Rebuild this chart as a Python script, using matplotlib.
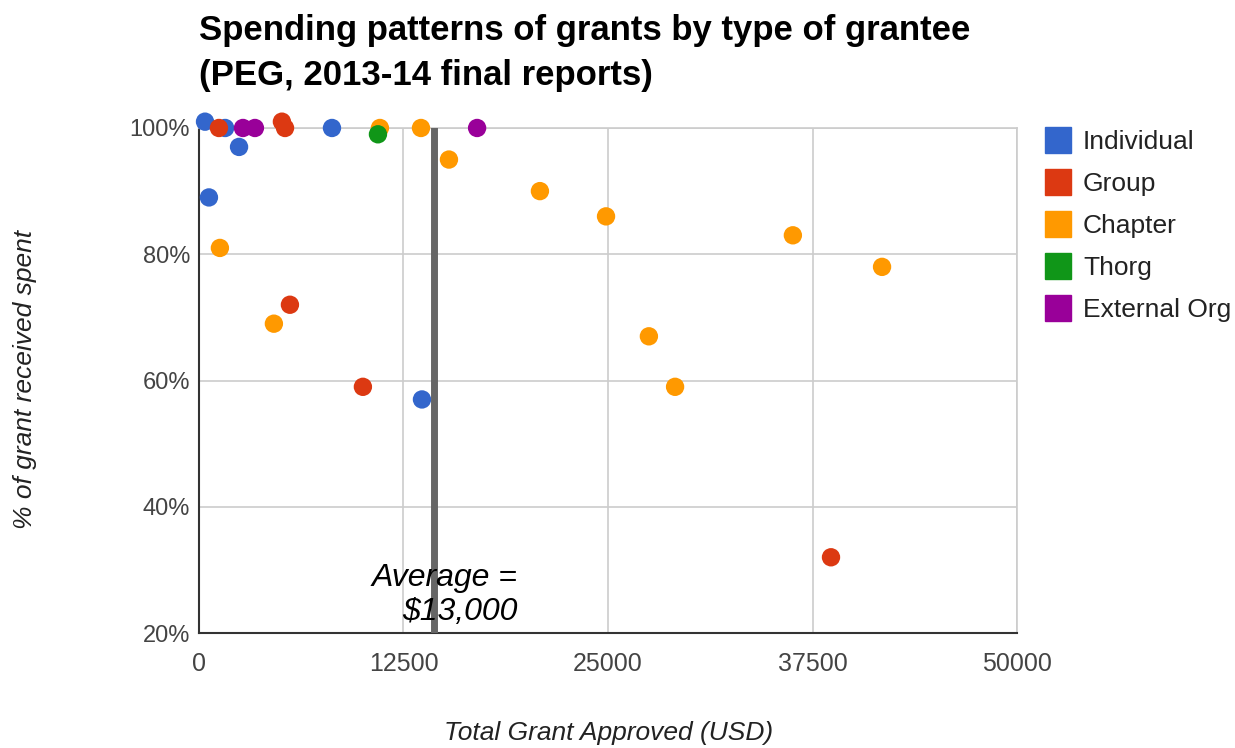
import numpy as np
import matplotlib.pyplot as plt
from matplotlib.lines import Line2D

plt.rcParams['font.family'] = ['Liberation Sans', 'DejaVu Sans']

# grant approved (USD) and % of grant spent, by grantee type
individual_x = [370, 1600, 2450, 610, 8130, 13630]
individual_y = [101, 100, 97, 89, 100, 57]

group_x = [1220, 5070, 5260, 5560, 10020, 38630]
group_y = [100, 101, 100, 72, 59, 32]

chapter_x = [11060, 13570, 15280, 20840, 24880, 1280, 4580, 36300, 41750, 27500, 29100]
chapter_y = [100, 100, 95, 90, 86, 81, 69, 83, 78, 67, 59]

thorg_x = [10940]
thorg_y = [99]

external_x = [2690, 3420, 17000]
external_y = [100, 100, 100]

average_x = 14360

series = [
    ('Individual', individual_x, individual_y, '#3366cc'),
    ('Group', group_x, group_y, '#dc3912'),
    ('Chapter', chapter_x, chapter_y, '#ff9900'),
    ('Thorg', thorg_x, thorg_y, '#109618'),
    ('External Org', external_x, external_y, '#990099'),
]

fig = plt.figure(figsize=(12.35, 7.48), dpi=100)
ax = fig.add_axes([0.1611, 0.1537, 0.8235 - 0.1611, 0.8289 - 0.1537])

handles = []
for name, xs, ys, col in series:
    ax.scatter(xs, ys, s=175, color=col, edgecolors='none', label=name,
               clip_on=False, zorder=4)
    handles.append(Line2D([], [], marker='s', linestyle='none', markersize=19,
                          color=col, label=name))

ax.set_xlim(0, 50000)
ax.set_ylim(20, 100)
ax.set_xticks([0, 12500, 25000, 37500, 50000])
ax.set_xticklabels(['0', '12500', '25000', '37500', '50000'])
ax.set_yticks([20, 40, 60, 80, 100])
ax.set_yticklabels(['20%', '40%', '60%', '80%', '100%'])
ax.tick_params(axis='y', length=0, labelsize=17, colors='#444444', pad=6.5)
ax.tick_params(axis='x', length=0, labelsize=18, colors='#444444', pad=14)

ax.grid(True, color='#cccccc', linewidth=1.2, zorder=0)
ax.set_axisbelow(True)
for side in ['top', 'right']:
    ax.spines[side].set_color('#cccccc')
    ax.spines[side].set_linewidth(1.2)
for side in ['left', 'bottom']:
    ax.spines[side].set_color('#333333')
    ax.spines[side].set_linewidth(1.5)

ax.axvline(average_x, color='#666666', linewidth=5, zorder=3)
ax.text(19500, 26.0, 'Average =\n$13,000', ha='right', va='center',
        style='italic', fontsize=23, linespacing=1.2, zorder=5)

fig.text(0.1611, 0.929, 'Spending patterns of grants by type of grantee\n(PEG, 2013-14 final reports)',
         ha='left', va='center', fontsize=25, fontweight='bold', linespacing=1.45)

fig.text(0.493, 0.02, 'Total Grant Approved (USD)', ha='center', va='center',
         style='italic', fontsize=19, color='#222222')
fig.text(0.02, 0.493, '% of grant received spent', ha='center', va='center',
         rotation=90, style='italic', fontsize=19, color='#222222')

fig.legend(handles=handles, loc='upper left', bbox_to_anchor=(0.846, 0.826),
           frameon=False, fontsize=19, labelcolor='#222222', handlelength=1.0,
           handletextpad=0.45, labelspacing=0.68, borderpad=0, borderaxespad=0)

fig.savefig('out.png', dpi=100)
